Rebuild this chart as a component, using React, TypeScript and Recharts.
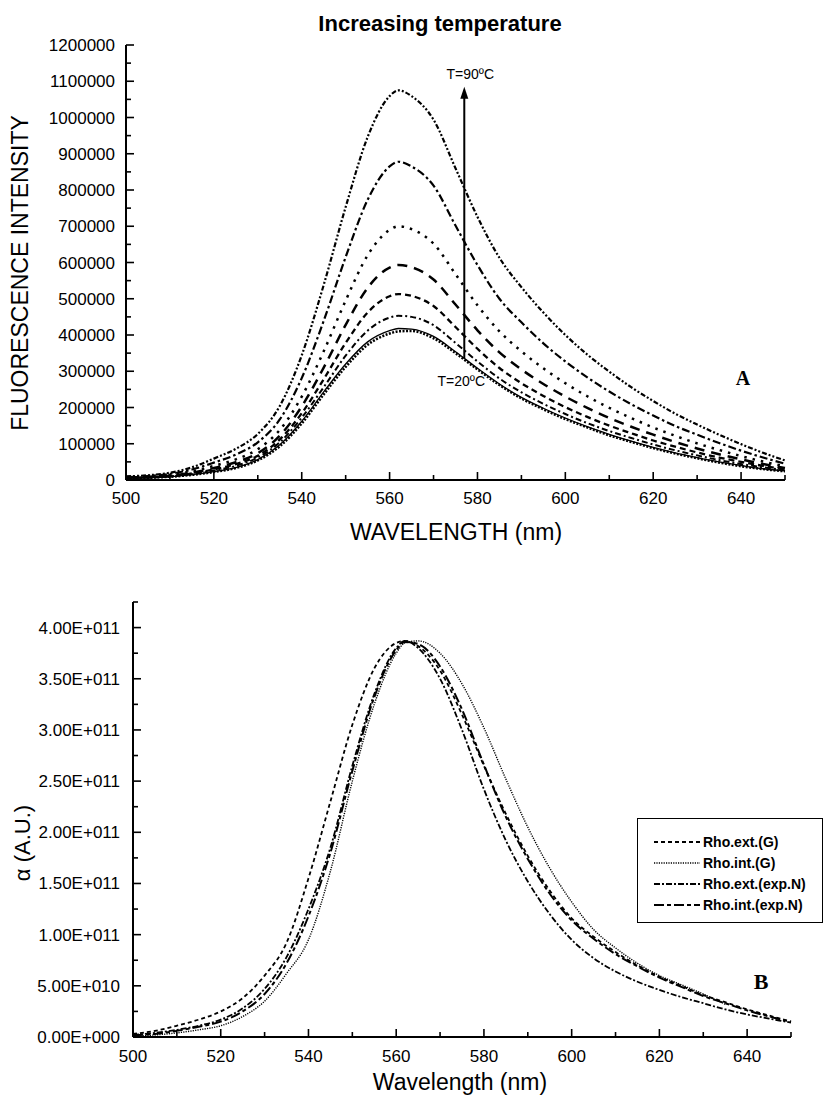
import React from 'react'
import { LineChart, Line, XAxis, YAxis, Legend, ReferenceLine } from 'recharts'

const FONT = '"Liberation Sans", Arial, sans-serif'

// wavelength grid (nm)
const wavelengths = [
  500, 505, 510, 515, 520, 525, 530, 535, 540, 545, 550, 555, 560, 562, 565, 570,
  575, 580, 585, 590, 595, 600, 605, 610, 615, 620, 625, 630, 635, 640, 645, 650,
]

// panel A: fluorescence intensity, 90 down to 20 degC
const t90 = [10000, 13000, 20000, 35000, 59000, 86000, 127000, 204000, 344000, 538000, 753000, 946000, 1059000, 1075000, 1059000, 994000, 860000, 726000, 613000, 532000, 462000, 400000, 346000, 299000, 256000, 218000, 183000, 153000, 125000, 99000, 75000, 54000]
const t80 = [8000, 11000, 17000, 29000, 48000, 70000, 104000, 167000, 281000, 439000, 615000, 773000, 865000, 878000, 865000, 812000, 702000, 593000, 500000, 435000, 377000, 327000, 283000, 244000, 209000, 178000, 149000, 125000, 102000, 81000, 62000, 45000]
const t70 = [7000, 9000, 14000, 24000, 39000, 57000, 85000, 138000, 230000, 355000, 495000, 620000, 690000, 700000, 692000, 652000, 568000, 482000, 410000, 355000, 308000, 267000, 231000, 199000, 171000, 145000, 122000, 101000, 83000, 66000, 51000, 38000]
const t60 = [6000, 8000, 12000, 20000, 33000, 49000, 74000, 122000, 203000, 310000, 428000, 530000, 586000, 593000, 587000, 553000, 484000, 413000, 352000, 305000, 265000, 230000, 199000, 171000, 147000, 125000, 105000, 87000, 71000, 57000, 44000, 33000]
const t50 = [6000, 7000, 11000, 18000, 29000, 44000, 67000, 112000, 184000, 278000, 378000, 462000, 507000, 513000, 508000, 480000, 422000, 362000, 309000, 267000, 232000, 201000, 174000, 150000, 129000, 109000, 92000, 76000, 62000, 50000, 39000, 30000]
const t40 = [5000, 7000, 10000, 16000, 26000, 39000, 62000, 104000, 172000, 256000, 343000, 412000, 448000, 453000, 450000, 427000, 378000, 327000, 280000, 242000, 210000, 182000, 157000, 135000, 116000, 98000, 82000, 68000, 55000, 44000, 35000, 27000]
const t30 = [5000, 6000, 9000, 15000, 23000, 34000, 56000, 97000, 162000, 243000, 320000, 381000, 412000, 418000, 416000, 396000, 354000, 308000, 265000, 228000, 198000, 171000, 147000, 126000, 107000, 90000, 75000, 62000, 50000, 40000, 31000, 25000]
const t20 = [5000, 6000, 9000, 14000, 22000, 33000, 54000, 93000, 156000, 236000, 312000, 373000, 404000, 410000, 411000, 391000, 350000, 305000, 262000, 225000, 195000, 168000, 145000, 123000, 105000, 88000, 73000, 60000, 48000, 38000, 30000, 24000]

// panel B: alpha (A.U.)
const extG = [3e9, 6e9, 1.1e10, 1.7e10, 2.5e10, 3.8e10, 6.0e10, 9.2e10, 1.55e11, 2.3e11, 3.05e11, 3.6e11, 3.85e11, 3.87e11, 3.82e11, 3.58e11, 3.15e11, 2.65e11, 2.18e11, 1.77e11, 1.43e11, 1.16e11, 9.8e10, 8.3e10, 7.0e10, 5.9e10, 5.0e10, 4.1e10, 3.4e10, 2.7e10, 2.1e10, 1.5e10]
const intG = [1e9, 2e9, 4e9, 7e9, 1.1e10, 2.0e10, 3.5e10, 6.2e10, 9.5e10, 1.62e11, 2.5e11, 3.25e11, 3.75e11, 3.85e11, 3.87e11, 3.75e11, 3.45e11, 3.02e11, 2.52e11, 2.05e11, 1.65e11, 1.32e11, 1.05e11, 8.7e10, 7.2e10, 6.0e10, 5.1e10, 4.2e10, 3.2e10, null, null, null]
const extN = [2e9, 4e9, 7e9, 1.1e10, 1.7e10, 2.8e10, 4.7e10, 7.8e10, 1.25e11, 1.85e11, 2.65e11, 3.35e11, 3.8e11, 3.87e11, 3.8e11, 3.5e11, 3.0e11, 2.42e11, 1.92e11, 1.52e11, 1.2e11, 9.5e10, 7.7e10, 6.4e10, 5.4e10, 4.6e10, 3.9e10, 3.3e10, 2.7e10, 2.2e10, 1.8e10, 1.4e10]
const intN = [2e9, 3e9, 6e9, 1.0e10, 1.5e10, 2.5e10, 4.2e10, 7.2e10, 1.18e11, 1.8e11, 2.6e11, 3.32e11, 3.78e11, 3.86e11, 3.84e11, 3.62e11, 3.2e11, 2.66e11, 2.15e11, 1.74e11, 1.4e11, 1.14e11, 9.6e10, 8.1e10, 6.9e10, 5.8e10, 4.9e10, 4.0e10, 3.3e10, 2.6e10, 2.0e10, 1.5e10]

const xTicks = [500, 510, 520, 530, 540, 550, 560, 570, 580, 590, 600, 610, 620, 630, 640, 650]
const topYTicks = [
  0, 50000, 100000, 150000, 200000, 250000, 300000, 350000, 400000, 450000, 500000, 550000, 600000,
  650000, 700000, 750000, 800000, 850000, 900000, 950000, 1000000, 1050000, 1100000, 1150000, 1200000,
]
const botYTicks = [
  0, 2.5e10, 5e10, 7.5e10, 1e11, 1.25e11, 1.5e11, 1.75e11, 2e11, 2.25e11, 2.5e11, 2.75e11, 3e11,
  3.25e11, 3.5e11, 3.75e11, 4e11, 4.25e11,
]

const topData = wavelengths.map((wl, i) => ({
  wl, t90: t90[i], t80: t80[i], t70: t70[i], t60: t60[i], t50: t50[i], t40: t40[i], t30: t30[i], t20: t20[i],
}))
const botData = wavelengths.map((wl, i) => ({
  wl, extG: extG[i], intG: intG[i], extN: extN[i], intN: intN[i],
}))

const topSeries = [
  { key: 't90', dash: '5 2 2 2 2 2', w: 2.2 },
  { key: 't80', dash: '8 3 2.5 3', w: 2.2 },
  { key: 't70', dash: '2.5 6', w: 2.5 },
  { key: 't60', dash: '10 7', w: 2.5 },
  { key: 't50', dash: '6 4', w: 2.3 },
  { key: 't40', dash: '6 3 2 3', w: 2 },
  { key: 't30', dash: undefined, w: 1.3 },
  { key: 't20', dash: '2 1.5', w: 2.5 },
]

const botSeries = [
  { key: 'extG', name: 'Rho.ext.(G)', dash: '4 3', w: 1.8 },
  { key: 'intG', name: 'Rho.int.(G)', dash: '1.2 1.2', w: 1.4 },
  { key: 'extN', name: 'Rho.ext.(exp.N)', dash: '6 2 2 2', w: 1.8 },
  { key: 'intN', name: 'Rho.int.(exp.N)', dash: '10 3 4 3', w: 2 },
]

function fmtE(v: number) {
  if (v === 0) return '0.00E+000'
  const e = Math.floor(Math.log10(v) + 1e-9)
  return (v / Math.pow(10, e)).toFixed(2) + 'E+' + String(e).padStart(3, '0')
}

function XTick(props: any) {
  const { x, y, payload } = props
  const major = payload.value % 20 === 0
  return (
    <g>
      <line x1={x} x2={x} y1={y} y2={y - (major ? 8 : 5)} stroke="#000" strokeWidth={1.6} />
      {major && (
        <text x={x} y={y + props.dy} textAnchor="middle" fontSize={17} fontFamily={FONT} fill="#000">
          {payload.value}
        </text>
      )}
    </g>
  )
}

function YTick(props: any) {
  const { x, y, payload, isMajor, format, gap } = props
  const major = isMajor(payload.value)
  return (
    <g>
      <line x1={x} x2={x + (major ? 8 : 5)} y1={y} y2={y} stroke="#000" strokeWidth={1.6} />
      {major && (
        <text x={x - gap} y={y + 6} textAnchor="end" fontSize={17} fontFamily={FONT} fill="#000">
          {format(payload.value)}
        </text>
      )}
    </g>
  )
}

function Arrow(props: any) {
  const { x1, y1, x2, y2 } = props
  return (
    <g>
      <line x1={x1} y1={y1} x2={x2} y2={y2 + 8} stroke="#000" strokeWidth={2} />
      <polygon points={`${x2},${y2} ${x2 - 4},${y2 + 12} ${x2 + 4},${y2 + 12}`} fill="#000" />
      <text x={x2 + 6} y={y2 - 8} textAnchor="middle" fontSize={14} fontFamily={FONT} fill="#000">T=90ºC</text>
      <text x={x1 - 3} y={y1 + 27} textAnchor="middle" fontSize={14} fontFamily={FONT} fill="#000">T=20ºC</text>
    </g>
  )
}

function LegendBox() {
  return (
    <div style={{ border: '1.5px solid #000', background: '#fff', padding: '12px 0 8px 16px', boxSizing: 'border-box', width: 186, height: 105 }}>
      {botSeries.map((s) => (
        <div key={s.key} style={{ display: 'flex', alignItems: 'center', height: 21 }}>
          <svg width={48} height={10}>
            <line x1={0} x2={46} y1={5} y2={5} stroke="#000" strokeWidth={s.w} strokeDasharray={s.dash} />
          </svg>
          <span style={{ fontFamily: FONT, fontWeight: 'bold', fontSize: 14, color: '#000', marginLeft: 1 }}>{s.name}</span>
        </div>
      ))}
    </div>
  )
}

export default function App() {
  return (
    <div style={{ position: 'absolute', left: 0, top: 0, width: 823, height: 1102, background: '#fff' }}>
      <LineChart width={823} height={560} data={topData} margin={{ top: 45, right: 38, bottom: 20, left: 0 }}>
        <XAxis
          dataKey="wl"
          type="number"
          domain={[500, 650]}
          ticks={xTicks}
          interval={0}
          height={60}
          tickSize={0}
          tickMargin={0}
          tickLine={false}
          axisLine={{ stroke: '#000', strokeWidth: 2 }}
          tick={<XTick dy={24} />}
        />
        <YAxis
          type="number"
          domain={[0, 1200000]}
          ticks={topYTicks}
          interval={0}
          width={126}
          tickSize={0}
          tickMargin={0}
          tickLine={false}
          axisLine={{ stroke: '#000', strokeWidth: 2 }}
          tick={<YTick isMajor={(v: number) => v % 100000 === 0} format={(v: number) => String(v)} gap={11} />}
        />
        {topSeries.map((s) => (
          <Line
            key={s.key}
            dataKey={s.key}
            type="monotone"
            stroke="#000"
            strokeWidth={s.w}
            strokeDasharray={s.dash}
            dot={false}
            isAnimationActive={false}
          />
        ))}
        <ReferenceLine
          segment={[{ x: 577, y: 335000 }, { x: 577, y: 1085000 }]}
          stroke="#000"
          shape={(p: any) => <Arrow {...p} />}
        />
        <text x={440} y={31} textAnchor="middle" fontSize={22} fontWeight="bold" fontFamily={FONT} fill="#000">
          Increasing temperature
        </text>
        <text x={28} y={273} transform="rotate(-90 28 273)" textAnchor="middle" fontSize={23} fontFamily={FONT} fill="#000">
          FLUORESCENCE INTENSITY
        </text>
        <text x={456} y={540} textAnchor="middle" fontSize={23} fontFamily={FONT} fill="#000">
          WAVELENGTH (nm)
        </text>
        <text x={743} y={385} textAnchor="middle" fontSize={20} fontWeight="bold" fontFamily={'"Liberation Serif", serif'} fill="#000">
          A
        </text>
      </LineChart>

      <LineChart width={823} height={542} data={botData} margin={{ top: 42, right: 32, bottom: 15, left: 0 }}>
        <XAxis
          dataKey="wl"
          type="number"
          domain={[500, 650]}
          ticks={xTicks}
          interval={0}
          height={50}
          tickSize={0}
          tickMargin={0}
          tickLine={false}
          axisLine={{ stroke: '#000', strokeWidth: 2 }}
          tick={<XTick dy={25} />}
        />
        <YAxis
          type="number"
          domain={[0, 4.25e11]}
          ticks={botYTicks}
          interval={0}
          width={133}
          tickSize={0}
          tickMargin={0}
          tickLine={false}
          axisLine={{ stroke: '#000', strokeWidth: 2 }}
          tick={
            <YTick
              isMajor={(v: number) => Math.round(v / 2.5e10) % 2 === 0 && v <= 4e11}
              format={fmtE}
              gap={13}
            />
          }
        />
        {botSeries.map((s) => (
          <Line
            key={s.key}
            dataKey={s.key}
            name={s.name}
            type="monotone"
            stroke="#000"
            strokeWidth={s.w}
            strokeDasharray={s.dash}
            dot={false}
            connectNulls={false}
            isAnimationActive={false}
          />
        ))}
        <Legend
          layout="vertical"
          align="center"
          verticalAlign="middle"
          content={() => <LegendBox />}
          wrapperStyle={{ left: 637, top: 258, width: 186, height: 105 }}
        />
        <text x={30} y={283} transform="rotate(-90 30 283)" textAnchor="middle" fontSize={22} fontFamily={FONT} fill="#000">
          α (A.U.)
        </text>
        <text x={460} y={530} textAnchor="middle" fontSize={23} fontFamily={FONT} fill="#000">
          Wavelength (nm)
        </text>
        <text x={761} y={429} textAnchor="middle" fontSize={22} fontWeight="bold" fontFamily={'"Liberation Serif", serif'} fill="#000">
          B
        </text>
      </LineChart>
    </div>
  )
}
